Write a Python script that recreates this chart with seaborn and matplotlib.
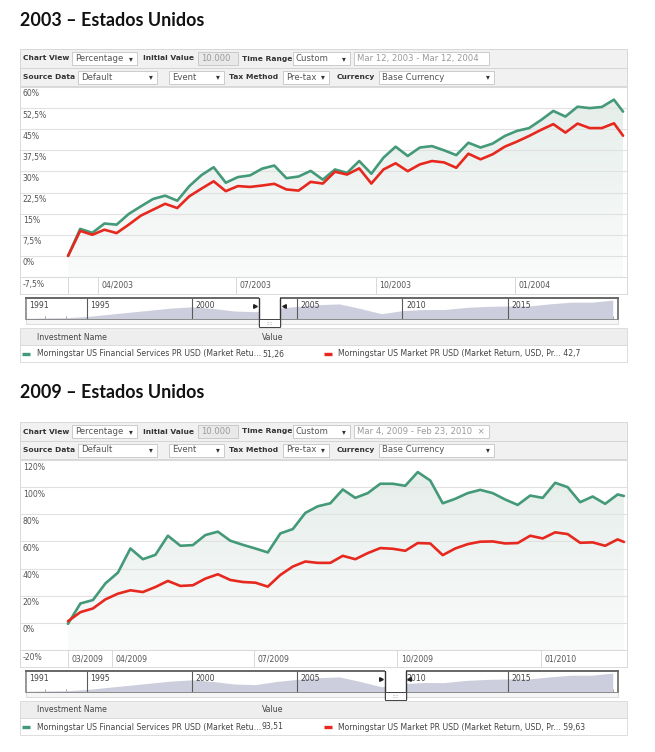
import numpy as np
import pandas as pd
import matplotlib
matplotlib.use("Agg")
import matplotlib.pyplot as plt
import matplotlib.dates as mdates
import matplotlib.transforms as mtransforms
from matplotlib.patches import Rectangle
from matplotlib.colors import LinearSegmentedColormap
import seaborn as sns

sns.set_theme(style="white")
plt.rcParams["font.family"] = ["DejaVu Sans"]

W, H = 655, 752
GREEN = "#449a78"
RED = "#e6281e"
FIN_NAME = "Morningstar US Financial Services PR USD (Market Retu..."
MKT_NAME = "Morningstar US Market PR USD (Market Return, USD, Pr..."

# ── data (% return) ──────────────────────────────────────────────────────────
FIN_2003 = [0, 9.6, 8.2, 11.5, 11.1, 14.9, 17.6, 20.2, 21.4, 19.6, 24.8, 28.7,
            31.5, 26.0, 28.0, 28.6, 31.0, 32.1, 27.6, 28.2, 30.2, 27.1, 30.7,
            29.5, 33.7, 29.2, 34.9, 38.8, 35.5, 38.5, 39.0, 37.5, 35.8, 40.2,
            38.5, 39.9, 42.6, 44.4, 45.4, 48.3, 51.5, 49.5, 53.0, 52.5, 52.9,
            55.5, 51.26]
MKT_2003 = [0, 8.9, 7.5, 9.3, 8.1, 11.1, 14.3, 16.4, 18.5, 17.0, 21.2, 23.9,
            26.5, 23.0, 24.8, 24.5, 25.0, 25.6, 23.6, 23.2, 26.3, 25.7, 29.9,
            28.9, 31.1, 25.7, 30.7, 32.9, 30.1, 32.5, 33.7, 33.2, 31.3, 36.3,
            34.3, 36.1, 38.8, 40.6, 42.6, 44.8, 46.8, 43.8, 47.0, 45.4, 45.4,
            47.1, 42.7]
FIN_2009 = [-0.7, 14.3, 16.8, 29.1, 37.0, 54.8, 46.9, 50.1, 64.2, 56.8, 57.3,
            64.7, 67.2, 60.5, 57.5, 54.8, 51.9, 65.9, 69.1, 81.0, 85.9, 88.1,
            98.3, 92.1, 95.6, 102.5, 102.5, 101.0, 111.1, 104.9, 88.1, 91.4,
            95.6, 98.0, 95.6, 90.9, 86.9, 93.8, 92.1, 103.2, 100.0, 88.9, 93.1,
            87.7, 94.6, 93.51]
MKT_2009 = [1.2, 7.9, 10.6, 17.3, 21.5, 24.0, 22.7, 26.4, 30.9, 27.2, 27.7,
            32.6, 35.8, 31.6, 30.1, 29.6, 26.7, 35.3, 41.5, 45.2, 44.2, 44.2,
            49.4, 46.9, 51.4, 55.1, 54.6, 53.1, 58.8, 58.5, 49.9, 54.8, 58.0,
            59.8, 60.0, 58.5, 58.8, 64.2, 62.2, 66.7, 65.4, 59.0, 59.3, 56.8,
            61.5, 59.63]

START_2003, END_2003 = "2003-03-12", "2004-03-12"
START_2009, END_2009 = "2009-03-04", "2010-02-23"
XTICKS_2003 = ["2003-03-12", "2003-04-01", "2003-07-01", "2003-10-01", "2004-01-01"]
XLABELS_2003 = ["", "04/2003", "07/2003", "10/2003", "01/2004"]
XTICKS_2009 = ["2009-03-04", "2009-04-01", "2009-07-01", "2009-10-01", "2010-01-01"]
XLABELS_2009 = ["03/2009", "04/2009", "07/2009", "10/2009", "01/2010"]
YTICKS_2003 = [-7.5, 0, 7.5, 15, 22.5, 30, 37.5, 45, 52.5, 60]
YTICKS_2009 = [-20, 0, 20, 40, 60, 80, 100, 120]

# navigator mini chart (long-run index level, relative)
NAV_YEARS = list(range(1992, 2021))
NAV_LEVEL = [0.03, 0.05, 0.06, 0.12, 0.22, 0.32, 0.42, 0.52, 0.58, 0.50, 0.38,
             0.35, 0.50, 0.60, 0.68, 0.72, 0.50, 0.25, 0.40, 0.45, 0.45, 0.55,
             0.60, 0.62, 0.62, 0.72, 0.80, 0.80, 0.90]
NAV_DIVIDERS = [1995, 2000, 2005, 2010, 2015]
NAV_FIRST_LABEL = "1991"


def pct(v):
    return f"{v:g}".replace(".", ",") + "%"


def dec(v):
    return f"{v:g}".replace(".", ",")


def sample_dates(start, end, n):
    return list(pd.date_range(start, periods=n - 1, freq="8D")) + [pd.Timestamp(end)]


def px_axes(fig, x0, y0, x1, y1):
    return fig.add_axes([x0 / W, 1 - y1 / H, (x1 - x0) / W, (y1 - y0) / H])


# ── toolbar ──────────────────────────────────────────────────────────────────

def draw_toolbar(bg, top, date_text):
    for y in (top, top + 18.5):
        bg.add_patch(Rectangle((20, y), 607, 18.5, fc="#f1f1f1", ec="#d3d3d3", lw=0.6))

    def label(x, y, s):
        bg.text(x, y, s, fontsize=5.4, fontweight="bold", color="#333333", va="center")

    def box(x0, x1, y, s, arrow=True, fill="white", color="#555555"):
        bg.add_patch(Rectangle((x0, y - 6.5), x1 - x0, 13, fc=fill, ec="#c4c4c4", lw=0.6))
        bg.text(x0 + 3, y, s, fontsize=6.1, color=color, va="center")
        if arrow:
            bg.text(x1 - 6, y, "▾", fontsize=5.5, color="#333333", va="center", ha="center")

    r1, r2 = top + 9.5, top + 28
    label(23, r1, "Chart View")
    box(72, 137, r1, "Percentage")
    label(143, r1, "Initial Value")
    box(198, 238, r1, "10.000", arrow=False, fill="#e9e9e9", color="#9a9a9a")
    label(242, r1, "Time Range")
    box(293, 350, r1, "Custom")
    box(354, 489, r1, date_text, arrow=False, color="#9a9a9a")

    label(23, r2, "Source Data")
    box(78, 157, r2, "Default")
    box(169, 224, r2, "Event")
    label(229, r2, "Tax Method")
    box(283, 329, r2, "Pre-tax")
    label(337, r2, "Currency")
    box(379, 494, r2, "Base Currency")


# ── one full widget ──────────────────────────────────────────────────────────

def draw_panel(fig, bg, T, title, date_text, start, end, fin, mkt,
               yticks, xticks, xlabels, left_pad, right_pad, window):
    bg.text(20, T + 20, title, fontsize=12.9, fontweight="bold",
            family=["Lato", "DejaVu Sans"], color="#111111", va="center")
    draw_toolbar(bg, T + 49, date_text)

    dates = sample_dates(start, end, len(fin))
    df = pd.DataFrame({
        "date": dates * 2,
        "value": fin + mkt,
        "series": [FIN_NAME] * len(fin) + [MKT_NAME] * len(mkt),
    })

    # date band first, so the main chart (and its lowest tick label) sits on top
    x0 = pd.Timestamp(start) - pd.Timedelta(days=left_pad)
    x1 = pd.Timestamp(end) + pd.Timedelta(days=right_pad)
    band = px_axes(fig, 20, T + 277, 627, T + 294)
    band.set_xlim(x0, x1)
    band.set_ylim(0, 1)
    tick_dates = [pd.Timestamp(d) for d in xticks]
    band.set_xticks(tick_dates)
    band.set_yticks([])
    band.tick_params(axis="x", length=0, labelbottom=False)
    band.grid(axis="x", color="#d8d8d8", linewidth=0.7)
    for d, lab in zip(tick_dates, xlabels):
        band.annotate(lab, xy=(d, 0.5), xycoords=("data", "axes fraction"),
                      xytext=(2.5, 0), textcoords="offset points",
                      fontsize=5.6, color="#555555", va="center")
    for s in band.spines.values():
        s.set_color("#dadada")
        s.set_linewidth(0.7)

    ax = px_axes(fig, 20, T + 87, 627, T + 277)
    ax.patch.set_alpha(0)
    ymin, ymax = yticks[0], yticks[-1]

    sns.lineplot(data=df, x="date", y="value", hue="series",
                 palette=[GREEN, RED], linewidth=1.9, legend=False, ax=ax,
                 zorder=3)

    # soft gradient under the leading series
    poly = ax.fill_between(dates, fin, ymin, color="none", lw=0)
    cmap = LinearSegmentedColormap.from_list("fill", ["#fafbfb", "#e4ede9"])
    grad = np.linspace(0, 1, 256).reshape(-1, 1)
    img = ax.imshow(grad, cmap=cmap, aspect="auto", origin="lower", zorder=0,
                    extent=[mdates.date2num(dates[0]), mdates.date2num(dates[-1]),
                            ymin, ymax])
    img.set_clip_path(poly.get_paths()[0], transform=ax.transData)

    ax.set_xlim(x0, x1)
    ax.set_ylim(ymin, ymax)
    ax.set_yticks(yticks, [pct(v) for v in yticks], ha="left", va="top")
    ax.tick_params(axis="y", length=0, pad=-2, labelsize=5.6, labelcolor="#555555")
    ax.tick_params(axis="x", length=0, labelbottom=False)
    down = mtransforms.ScaledTranslation(0, -2.5 / 100, fig.dpi_scale_trans)
    for lab in ax.get_yticklabels():
        lab.set_transform(lab.get_transform() + down)
    ax.set_xlabel("")
    ax.set_ylabel("")
    ax.grid(axis="y", color="#e1e1e1", linewidth=0.8)
    ax.grid(axis="x", visible=False)
    ax.set_axisbelow(True)
    for s in ax.spines.values():
        s.set_color("#dadada")
        s.set_linewidth(0.7)

    # navigator
    nav = px_axes(fig, 26, T + 298, 618, T + 319)
    nav.fill_between(NAV_YEARS, NAV_LEVEL, 0, color="#cdcedd", lw=0)
    nav.set_xlim(1992.1, 2020.25)
    nav.set_ylim(0, 1)
    nav.set_xticks(range(1993, 2021))
    nav.set_yticks([])
    nav.tick_params(axis="x", direction="in", length=2.5, width=0.6,
                    color="#8a8a8a", labelbottom=False, bottom=True)
    nav.grid(False)
    for yr in NAV_DIVIDERS:
        nav.axvline(yr, color="#5a5a5a", lw=0.8)
    nav.annotate(NAV_FIRST_LABEL, xy=(1992.1, 0.62), xycoords="data",
                 xytext=(2.5, 0), textcoords="offset points",
                 fontsize=5.6, color="#444444", va="center")
    for yr in NAV_DIVIDERS:
        nav.annotate(str(yr), xy=(yr, 0.62), xycoords="data",
                     xytext=(2.5, 0), textcoords="offset points",
                     fontsize=5.6, color="#444444", va="center")
    nav.spines["top"].set_color("#666666")
    nav.spines["top"].set_linewidth(1.4)
    nav.spines["bottom"].set_color("#8a8a8a")
    nav.spines["bottom"].set_linewidth(0.7)
    nav.spines["left"].set_color("#8a8a8a")
    nav.spines["right"].set_color("#666666")
    nav.spines["right"].set_linewidth(1.2)

    w0, w1 = window
    nav.add_patch(Rectangle((w0, 0), w1 - w0, 1.08, fc="white", ec="none",
                            zorder=4, clip_on=False))
    for wx in window:
        nav.plot([wx, wx], [-0.35, 1.0], color="#333333", lw=1.0,
                 zorder=5, clip_on=False)
    nav.plot([w0 - 0.18], [0.62], marker=">", ms=2.6, color="#222222", zorder=5)
    nav.plot([w1 + 0.18], [0.62], marker="<", ms=2.6, color="#222222", zorder=5)
    nav.add_patch(Rectangle((w0, -0.38), w1 - w0, 0.38, fc="white", ec="#444444",
                            lw=0.7, zorder=5, clip_on=False))
    nav.text((w0 + w1) / 2, -0.2, "::::", fontsize=3.5, color="#777777",
             ha="center", va="center", zorder=6, clip_on=False)

    bg.add_patch(Rectangle((26, T + 319), 592, 5, fc="#f6f6f6", ec="#cfcfcf", lw=0.5))

    # investment table
    bg.add_patch(Rectangle((20, T + 328), 607, 17, fc="#eeeeee", ec="#d8d8d8", lw=0.6))
    bg.add_patch(Rectangle((20, T + 345), 607, 17, fc="white", ec="#d8d8d8", lw=0.6))
    bg.text(37, T + 337, "Investment Name", fontsize=5.6, color="#444444", va="center")
    bg.text(262, T + 337, "Value", fontsize=5.6, color="#444444", va="center")
    row = T + 354
    bg.plot([22, 30], [row, row], color=GREEN, lw=2.4, solid_capstyle="butt")
    bg.text(37, row, FIN_NAME, fontsize=5.6, color="#444444", va="center")
    bg.text(262, row, dec(fin[-1]), fontsize=5.6, color="#444444", va="center")
    bg.plot([324, 332], [row, row], color=RED, lw=2.4, solid_capstyle="butt")
    bg.text(338, row, f"{MKT_NAME} {dec(mkt[-1])}", fontsize=5.6,
            color="#444444", va="center")


def main():
    fig = plt.figure(figsize=(W / 100, H / 100), dpi=100)
    fig.patch.set_facecolor("white")
    bg = fig.add_axes([0, 0, 1, 1])
    bg.set_xlim(0, W)
    bg.set_ylim(H, 0)
    bg.axis("off")

    draw_panel(fig, bg, 0, "2003 – Estados Unidos", "Mar 12, 2003 - Mar 12, 2004",
               START_2003, END_2003, FIN_2003, MKT_2003, YTICKS_2003,
               XTICKS_2003, XLABELS_2003, 31.7, 2.6, (2003.19, 2004.19))
    draw_panel(fig, bg, 373, "2009 – Estados Unidos", "Mar 4, 2009 - Feb 23, 2010  ×",
               START_2009, END_2009, FIN_2009, MKT_2009, YTICKS_2009,
               XTICKS_2009, XLABELS_2009, 30.7, 2.0, (2009.17, 2010.15))

    fig.savefig("out.png", dpi=100)
    plt.close(fig)


if __name__ == "__main__":
    main()
